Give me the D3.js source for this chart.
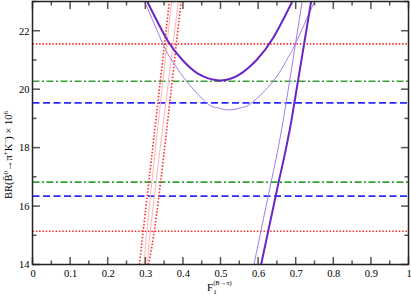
<!DOCTYPE html>
<html>
<head>
<meta charset="utf-8">
<script src="https://cdn.jsdelivr.net/npm/d3@7"></script>
<style>
body { margin: 0; background: #fff; }
text { font-family: "Liberation Serif", "DejaVu Serif", serif; }
</style>
</head>
<body>
<div id="chart"></div>
<script>
const margin = {top: 1.5, right: 2.5, bottom: 31, left: 32.5}, width = 411, height = 296;

// horizontal bands (BR x 10^6)
const redLevels = [21.55, 15.14];
const greenLevels = [20.27, 16.82];
const blueLevels = [19.53, 16.34];

// curves [F, BR]
const thickParabola = [[0.305, 23], [0.36, 21.65], [0.40, 20.98], [0.44, 20.53], [0.497, 20.3],
  [0.55, 20.5], [0.596, 21.0], [0.64, 21.75], [0.691, 23]];
const thinParabola = [[0.298, 23], [0.347, 21.55], [0.37, 21.0], [0.41, 20.27], [0.463, 19.53], [0.49, 19.37],
  [0.523, 19.29], [0.556, 19.37], [0.583, 19.53], [0.64, 20.27], [0.676, 21.0], [0.699, 21.55], [0.75, 23]];
const thickSteep = [[0.608, 14], [0.656, 16.9], [0.689, 18.95], [0.741, 23]];
const thinSteep = [[0.589, 14], [0.636, 16.9], [0.667, 18.95], [0.717, 23]];
const redDotLeft = [[0.284, 14], [0.304, 16.22], [0.364, 23]];
const redDotRight = [[0.308, 14], [0.335, 16.22], [0.395, 23]];
const pinkLeft = [[0.297, 14], [0.3125, 16.22], [0.370, 23]];
const pinkRight = [[0.305, 14], [0.323, 16.22], [0.388, 23]];

const xTicks = [0, 0.1, 0.2, 0.3, 0.4, 0.5, 0.6, 0.7, 0.8, 0.9, 1];
const yTicks = [14, 16, 18, 20, 22];

const svg = d3.select('#chart').append('svg')
  .attr('width', width).attr('height', height);

const x = d3.scaleLinear().domain([0, 1]).range([margin.left, width - margin.right]);
const y = d3.scaleLinear().domain([14, 23]).range([height - margin.bottom - 0.5, margin.top]);

svg.append('clipPath').attr('id', 'clip').append('rect')
  .attr('x', x(0)).attr('y', y(23)).attr('width', x(1) - x(0)).attr('height', y(14) - y(23));

const plot = svg.append('g').attr('clip-path', 'url(#clip)');

function hlines(levels, color, dash, w) {
  plot.selectAll(null).data(levels).join('line')
    .attr('x1', x(0)).attr('x2', x(1))
    .attr('y1', d => y(d)).attr('y2', d => y(d))
    .attr('stroke', color).attr('stroke-width', w)
    .attr('stroke-dasharray', dash);
}
hlines(redLevels, '#ff2a2a', '1.5 1.8', 1.6);
hlines(greenLevels, '#36a036', '7 2.5 2 2.5', 1.6);
hlines(blueLevels, '#2a2aff', '7 3.5', 1.6);

const line = d3.line().x(d => x(d[0])).y(d => y(d[1])).curve(d3.curveNatural);
function curve(data, color, w, dash) {
  plot.append('path').datum(data).attr('d', line)
    .attr('fill', 'none').attr('stroke', color).attr('stroke-width', w)
    .attr('stroke-dasharray', dash || null);
}
curve(pinkLeft, '#ffb4b4', 1);
curve(pinkRight, '#ffb4b4', 1);
curve(redDotLeft, '#ff2a2a', 1.6, '1.5 1.8');
curve(redDotRight, '#ff2a2a', 1.6, '1.5 1.8');
curve(thinParabola, '#a47ce2', 1);
curve(thinSteep, '#a47ce2', 1);
curve(thickParabola, '#6a26c8', 2);
curve(thickSteep, '#6a26c8', 2);

// axes, ticks inward on all four sides
const bottom = svg.append('g').attr('transform', `translate(0,${y(14)})`)
  .call(d3.axisBottom(x).tickValues(xTicks).tickSize(0).tickPadding(5)
    .tickFormat(d => d === 0 || d === 1 ? d3.format('d')(d) : d3.format('.1f')(d)));
bottom.select('.domain').remove();
bottom.selectAll('text').attr('font-size', 10.5).attr('fill', '#000')
  .style('font-family', '"Liberation Serif", serif');

const left = svg.append('g').attr('transform', `translate(${x(0)},0)`)
  .call(d3.axisLeft(y).tickValues(yTicks).tickSize(0).tickPadding(3));
left.select('.domain').remove();
left.selectAll('text').attr('font-size', 10.5).attr('fill', '#000')
  .style('font-family', '"Liberation Serif", serif');

const tickG = svg.append('g').attr('stroke', '#555').attr('stroke-width', 1.5);
const xMinor = d3.range(0, 21).map(i => i / 20);
xMinor.forEach((v, i) => {
  const len = i % 2 === 0 ? 7.5 : 4;
  tickG.append('line').attr('x1', x(v)).attr('x2', x(v)).attr('y1', y(14)).attr('y2', y(14) - len);
  tickG.append('line').attr('x1', x(v)).attr('x2', x(v)).attr('y1', y(23)).attr('y2', y(23) + len);
});
d3.range(14, 24).forEach(v => {
  const len = v % 2 === 0 ? 7.5 : 4;
  tickG.append('line').attr('y1', y(v)).attr('y2', y(v)).attr('x1', x(0)).attr('x2', x(0) + len);
  tickG.append('line').attr('y1', y(v)).attr('y2', y(v)).attr('x1', x(1)).attr('x2', x(1) - len);
});

svg.append('rect').attr('x', x(0)).attr('y', y(23)).attr('width', x(1) - x(0)).attr('height', y(14) - y(23))
  .attr('fill', 'none').attr('stroke', '#222').attr('stroke-width', 1.5);

// y label
const yl = svg.append('text').attr('transform', 'translate(12,155) rotate(-90)')
  .attr('text-anchor', 'middle').attr('font-size', 10.5);
yl.append('tspan').text('BR(B\u0304');
yl.append('tspan').attr('font-size', 7).attr('dy', -4).text('0');
yl.append('tspan').attr('dy', 4).text('\u2192\u03c0');
yl.append('tspan').attr('font-size', 7).attr('dy', -4).text('+');
yl.append('tspan').attr('dy', 4).text('K');
yl.append('tspan').attr('font-size', 7).attr('dy', -4).text('\u2212');
yl.append('tspan').attr('dy', 4).text(') \u00d7 10');
yl.append('tspan').attr('font-size', 7).attr('dy', -4).text('6');

// x label
const xl = svg.append('text').attr('x', 207).attr('y', 291).attr('font-size', 11);
xl.append('tspan').text('F');
xl.append('tspan').attr('font-size', 7).attr('dy', 3).text('1');
xl.append('tspan').attr('font-size', 6.5).attr('dx', -3.5).attr('dy', -9).text('(B\u2192\u03c0)');
</script>
</body>
</html>
